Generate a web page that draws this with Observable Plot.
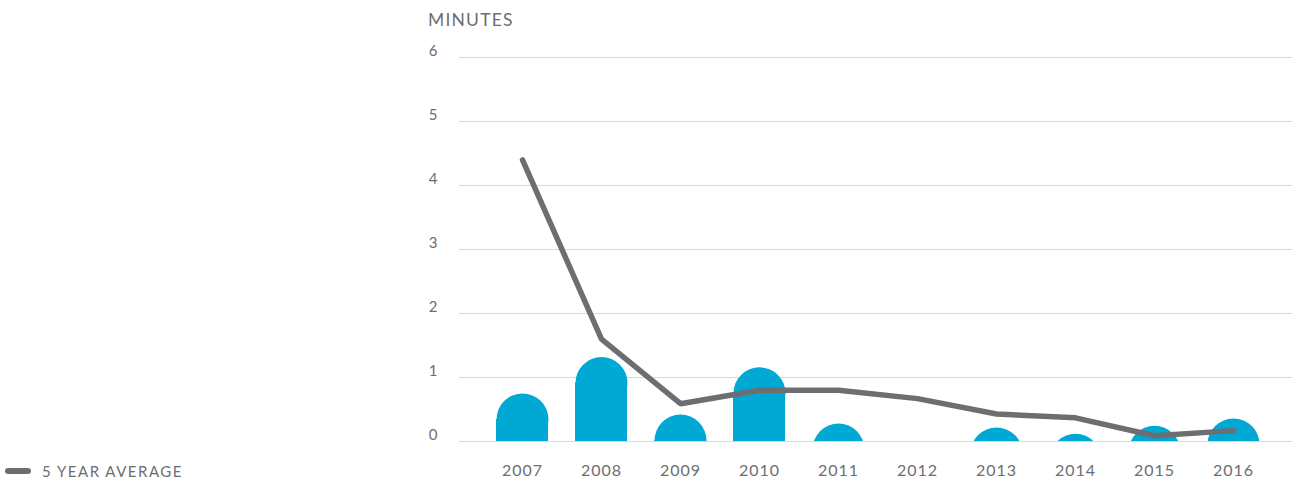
<!DOCTYPE html>
<html>
<head>
<meta charset="utf-8">
<script src="https://cdn.jsdelivr.net/npm/d3@7"></script>
<script src="https://cdn.jsdelivr.net/npm/@observablehq/plot@0.6"></script>
<style>
  html, body { margin: 0; padding: 0; background: #fff; }
  #wrap { position: relative; width: 1296px; height: 481px; font-family: Lato, "Open Sans", sans-serif; font-weight: 400; color: #6d6e71; }
  #title { position: absolute; left: 428px; top: 10px; font-size: 17.5px; line-height: 20px; letter-spacing: 1.2px; }
  #legend { position: absolute; left: 5px; top: 461px; font-size: 15px; line-height: 20px; letter-spacing: 1.5px; display: flex; align-items: center; }
  #legend svg { margin-right: 11px; }
  #chart { position: absolute; left: 0; top: 0; }
</style>
</head>
<body>
<div id="wrap">
  <div id="chart"></div>
  <div id="title">MINUTES</div>
  <div id="legend"><svg width="26" height="8"><line x1="3" y1="4" x2="23" y2="4" stroke="#6d6e71" stroke-width="6" stroke-linecap="round"/></svg><span>5 YEAR AVERAGE</span></div>
</div>
<script>
const years = ["2007","2008","2009","2010","2011","2012","2013","2014","2015","2016"];
const minutes = [0.75, 1.32, 0.42, 1.16, 0.28, 0, 0.22, 0.12, 0.245, 0.36];
const fiveYearAverage = [4.40, 1.60, 0.59, 0.80, 0.80, 0.67, 0.43, 0.37, 0.09, 0.17];
const yTicks = [0, 1, 2, 3, 4, 5, 6];

const data = years.map((year, i) => ({year, value: minutes[i], avg: fiveYearAverage[i]}));

const barColor = "#00a8d4";
const lineColor = "#6d6e71";
const textColor = "#6d6e71";
const radius = 26;

const chart = Plot.plot({
  width: 1296,
  height: 481,
  marginTop: 57,
  marginBottom: 40,
  marginLeft: 459,
  marginRight: 4,
  style: {fontFamily: "Lato, 'Open Sans', sans-serif", fontWeight: 400, color: textColor, background: "transparent", letterSpacing: "1px"},
  x: {domain: years, paddingInner: 0.342, paddingOuter: 0.443, align: 0.53, label: null},
  y: {domain: [0, 6], label: null},
  marks: [
    Plot.gridY(yTicks, {stroke: "#d9d9d9", strokeOpacity: 1, strokeWidth: 1}),
    Plot.barY(data, {x: "year", y: "value", fill: barColor, insetTop: radius}),
    Plot.dot(data.filter(d => d.value > 0), {x: "year", y: "value", r: radius, dy: radius, fill: barColor, stroke: null, clip: true}),
    Plot.line(data, {x: "year", y: "avg", stroke: lineColor, strokeWidth: 5.5, strokeLinecap: "round", strokeLinejoin: "miter"}),
    Plot.axisY(yTicks, {tickSize: 0, tickPadding: 21, dy: -6, fontSize: 15, fill: textColor, label: null, tickFormat: d => String(d)}),
    Plot.axisX({tickSize: 0, tickPadding: 23, fontSize: 16, fill: textColor, label: null})
  ]
});
document.getElementById("chart").appendChild(chart);
</script>
</body>
</html>
